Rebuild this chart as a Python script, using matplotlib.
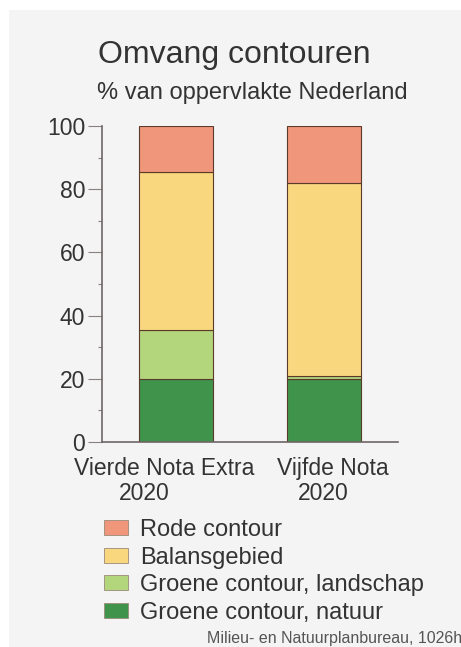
import matplotlib.pyplot as plt
from matplotlib.patches import Rectangle, Patch

plt.rcParams['font.family'] = ['Liberation Sans', 'DejaVu Sans']

categories = ["Vierde Nota Extra", "Vijfde Nota"]
years = ["2020", "2020"]
series = ["Groene contour, natuur", "Groene contour, landschap", "Balansgebied", "Rode contour"]
natuur = [20, 20]
landschap = [15.5, 1]
balans = [50, 61]
rode = [14.5, 18]
values = [natuur, landschap, balans, rode]
colors = ["#3f934b", "#b3d57c", "#f9d77f", "#f0967a"]

W, H = 461, 647
fig = plt.figure(figsize=(W / 100, H / 100), dpi=100)
fig.patch.set_facecolor("white")
fig.patches.append(Rectangle((9 / W, 0), 1 - 9 / W, 1 - 10 / H, transform=fig.transFigure,
                             facecolor="#f4f4f4", edgecolor="none", zorder=-10))

ax = fig.add_axes([102 / W, 1 - 442 / H, 296 / W, 316 / H])
ax.set_facecolor("none")

x = [0.5, 1.5]
bottom = [0, 0]
for vals, col in zip(values, colors):
    ax.bar(x, vals, width=0.5, bottom=bottom, color=col, edgecolor="#5a3a2a", linewidth=0.8)
    bottom = [b + v for b, v in zip(bottom, vals)]

ax.set_xlim(0, 2)
ax.set_ylim(0, 100)
for s in ["top", "right"]:
    ax.spines[s].set_visible(False)
for s in ["left", "bottom"]:
    ax.spines[s].set_color("#6f6666")
    ax.spines[s].set_linewidth(1.2)

ax.set_yticks([0, 20, 40, 60, 80, 100])
ax.set_yticks([10, 30, 50, 70, 90], minor=True)
ax.tick_params(axis="y", which="major", length=10, width=0.8, color="#8a8080",
               labelsize=16.5, labelcolor="#333333", pad=2)
ax.tick_params(axis="y", which="minor", length=3, width=0.8, color="#8a8080")
ax.set_xticks([])

# category labels sit slightly left of the bar centres, years further left
trans = ax.get_xaxis_transform()
for xi, cat, yr, dc, dy in zip(x, categories, years, [-0.08, 0.059], [-0.215, -0.008]):
    ax.text(xi + dc, -0.085, cat, transform=trans, ha="center", va="center",
            fontsize=16.5, color="#333333")
    ax.text(xi + dy, -0.163, yr, transform=trans, ha="center", va="center",
            fontsize=16.5, color="#333333")

fig.text(234 / W, 1 - 55 / H, "Omvang contouren", ha="center", va="center",
         fontsize=23, color="#333333")
fig.text(252 / W, 1 - 93 / H, "% van oppervlakte Nederland", ha="center", va="center",
         fontsize=17, color="#333333")

handles = [Patch(facecolor=c, edgecolor="#9a8a7a", linewidth=0.6) for c in colors[::-1]]
fig.legend(handles, series[::-1], loc="upper left", bbox_to_anchor=(83 / W, 1 - 498 / H),
           frameon=False, fontsize=17, handlelength=1.0, handleheight=0.6,
           handletextpad=0.5, labelspacing=0.23, labelcolor="#333333")

fig.text(207 / W, 1 - 638 / H, "Milieu- en Natuurplanbureau, 1026h", ha="left", va="center",
         fontsize=11.5, color="#555555")

fig.savefig("out.png", dpi=100)
